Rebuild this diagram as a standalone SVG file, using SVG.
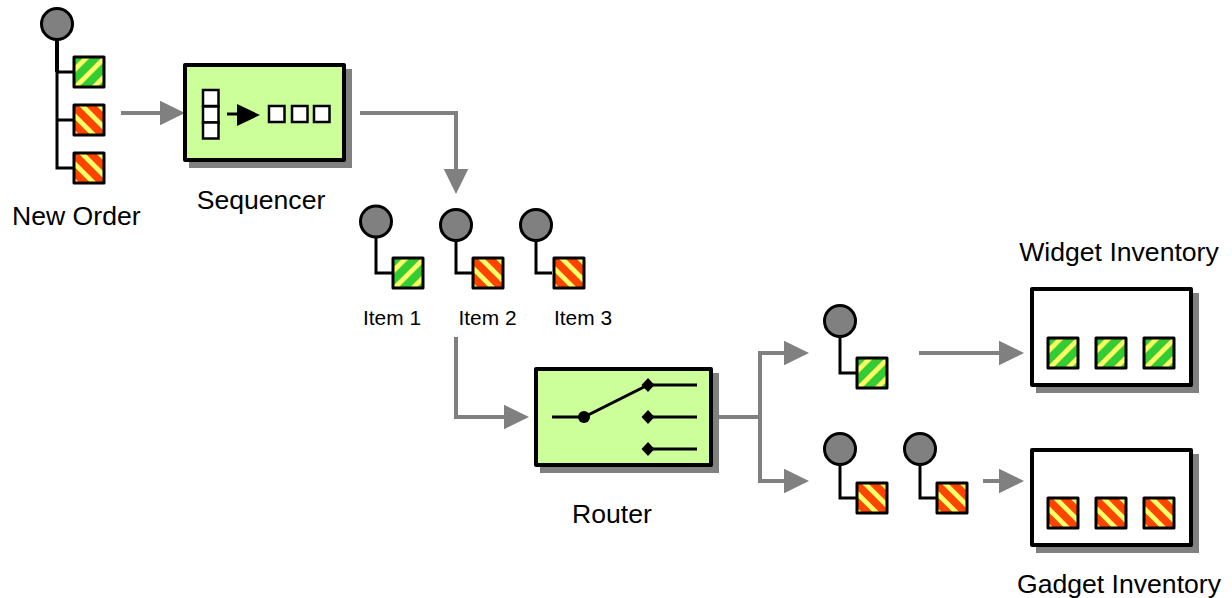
<svg xmlns="http://www.w3.org/2000/svg" width="1232" height="598" viewBox="0 0 1232 598">
<style>
text{font-family:"Liberation Sans",Arial,sans-serif;fill:#000}
.big{font-size:26.6px}.small{font-size:20.9px}
.conn{fill:none;stroke:#808080;stroke-width:4}
.ln{fill:none;stroke:#000;stroke-width:3}
.ball{fill:#808080;stroke:#000;stroke-width:3}
.box{stroke:#000;stroke-width:4;stroke-linejoin:round}
.shadow{fill:#808080}
.cell{fill:#fff;stroke:#000;stroke-width:2.5}
</style>
<defs>
<marker id="ah" markerUnits="userSpaceOnUse" markerWidth="26" markerHeight="26" refX="1" refY="13" orient="auto"><path d="M0 0.5L25.500 13L0 25.500Z" fill="#808080"/></marker>
<pattern id="gp" patternUnits="userSpaceOnUse" width="13" height="13" patternTransform="rotate(45) translate(6.9 0)"><rect width="13" height="13" fill="#33cc33"/><rect width="4.800" height="13" fill="#ffff66"/></pattern>
<pattern id="rp" patternUnits="userSpaceOnUse" width="12.5" height="12.5" patternTransform="rotate(-45) translate(2.9 0)"><rect width="12.5" height="12.5" fill="#ff4400"/><rect width="4.800" height="12.5" fill="#ffff66"/></pattern>
<rect id="gs" width="30" height="30" fill="url(#gp)" stroke="#000" stroke-width="3" stroke-linejoin="round"/>
<rect id="rs" width="30" height="30" fill="url(#rp)" stroke="#000" stroke-width="3" stroke-linejoin="round"/>
</defs>
<g id="connectors">
<path class="conn" marker-end="url(#ah)" d="M121 113H160.500"/>
<path class="conn" marker-end="url(#ah)" d="M360 113H456V169.500"/>
<path class="conn" marker-end="url(#ah)" d="M456 337V417H504.500"/>
<path class="conn" marker-end="url(#ah)" d="M713 417H760V353H784.500"/>
<path class="conn" marker-end="url(#ah)" d="M760 417V481H784.500"/>
<path class="conn" marker-end="url(#ah)" d="M919 353H999.500"/>
<path class="conn" marker-end="url(#ah)" d="M983 481H999.500"/>
</g>
<g id="new-order">
<path class="ln" d="M57 72V168H73M57 72H73M57 120H73"/><path d="M57 38V72" stroke="#000" stroke-width="4"/>
<circle class="ball" cx="57" cy="24" r="15.500"/>
<use href="#gs" x="74" y="57"/><use href="#rs" x="74" y="105"/><use href="#rs" x="74" y="153"/>
<text class="big" x="12" y="225">New Order</text>
</g>
<g id="sequencer">
<rect class="shadow" x="189" y="69" width="163" height="99"/>
<rect class="box" x="185" y="65" width="159" height="95" fill="#ccff99"/>
<rect class="cell" x="203" y="90" width="15.500" height="16"/><rect class="cell" x="203" y="106.500" width="15.500" height="16"/><rect class="cell" x="203" y="122.500" width="15.500" height="16"/>
<path d="M227 114H240" stroke="#000" stroke-width="3"/><path d="M237 104L260 115L237 126Z"/>
<rect class="cell" x="269" y="106" width="15.500" height="16"/><rect class="cell" x="292" y="106" width="15.500" height="16"/><rect class="cell" x="314" y="106" width="15.500" height="16"/>
<text class="big" x="261" y="209" text-anchor="middle">Sequencer</text>
</g>
<g id="item-1">
<path class="ln" d="M376 237V273H392"/><circle class="ball" cx="376" cy="221.500" r="15.500"/><use href="#gs" x="393" y="258"/>
<text class="small" x="363" y="325">Item 1</text>
</g>
<g id="item-2">
<path class="ln" d="M456 240V273H472"/><circle class="ball" cx="456" cy="225" r="15.500"/><use href="#rs" x="473" y="258"/>
<text class="small" x="458.500" y="325">Item 2</text>
</g>
<g id="item-3">
<path class="ln" d="M536 240V273H552"/><circle class="ball" cx="536" cy="225" r="15.500"/><use href="#rs" x="554" y="258"/>
<text class="small" x="554" y="325">Item 3</text>
</g>
<g id="router">
<rect class="shadow" x="540" y="373" width="179" height="100"/>
<rect class="box" x="536" y="369" width="175" height="96" fill="#ccff99"/>
<path class="ln" d="M552 417H584L648 385H697M648 417H697M648 449H697"/>
<circle cx="584" cy="417" r="6"/>
<path d="M648 378L654.500 385L648 392L641.500 385ZM648 410L654.500 417L648 424L641.500 417ZM648 442L654.500 449L648 456L641.500 449Z"/>
<text class="big" x="612" y="523" text-anchor="middle">Router</text>
</g>
<g id="widget-item">
<path class="ln" d="M840 336V373H856"/><circle class="ball" cx="840" cy="321" r="15.500"/><use href="#gs" x="857" y="358"/>
</g>
<g id="gadget-item-1">
<path class="ln" d="M840 464V498H856"/><circle class="ball" cx="840" cy="449" r="15.500"/><use href="#rs" x="857" y="483"/>
</g>
<g id="gadget-item-2">
<path class="ln" d="M920 464V498H936"/><circle class="ball" cx="920" cy="449" r="15.500"/><use href="#rs" x="937" y="483"/>
</g>
<g id="widget-inventory">
<rect class="shadow" x="1036" y="293" width="163" height="100"/>
<rect class="box" x="1032" y="289" width="159" height="96" fill="#fff"/>
<use href="#gs" x="1048" y="338"/><use href="#gs" x="1096" y="338"/><use href="#gs" x="1144" y="338"/>
<text class="big" x="1119" y="261" text-anchor="middle">Widget Inventory</text>
</g>
<g id="gadget-inventory">
<rect class="shadow" x="1036" y="454" width="163" height="99"/>
<rect class="box" x="1032" y="450" width="159" height="95" fill="#fff"/>
<use href="#rs" x="1048" y="498"/><use href="#rs" x="1096" y="498"/><use href="#rs" x="1144" y="498"/>
<text class="big" x="1119" y="593" text-anchor="middle">Gadget Inventory</text>
</g>
</svg>
